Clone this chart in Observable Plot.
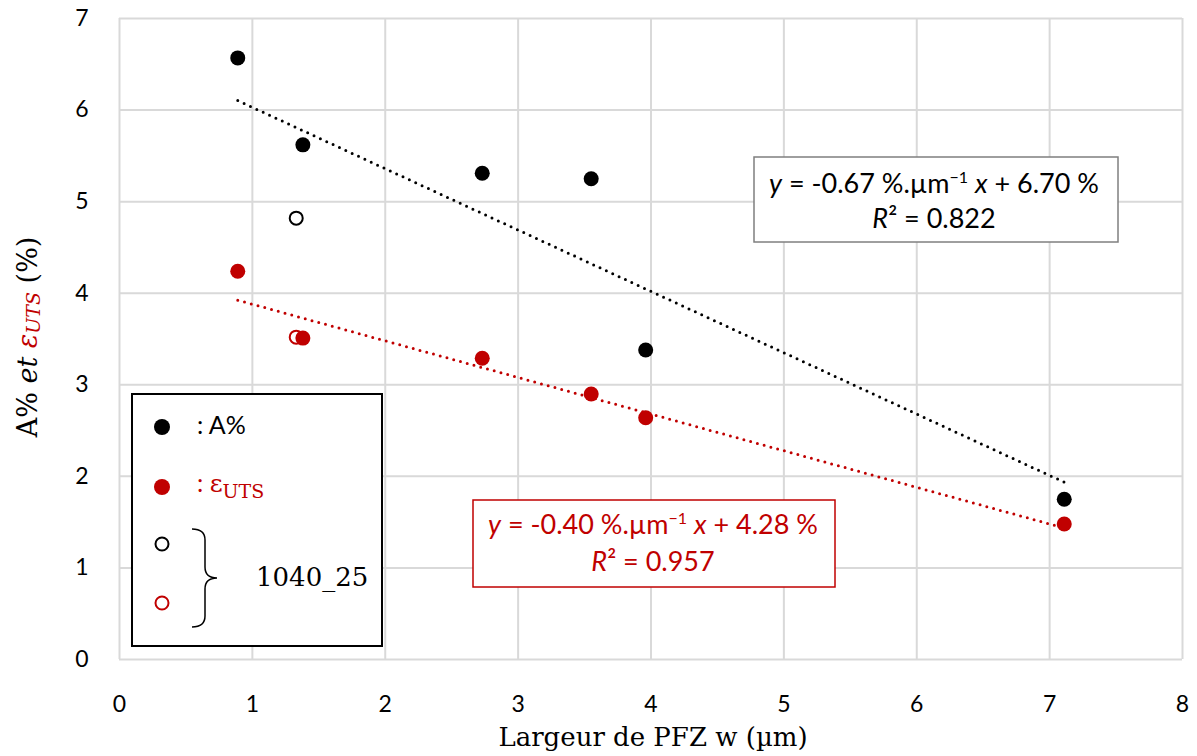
<!DOCTYPE html>
<html>
<head>
<meta charset="utf-8">
<script src="https://cdn.jsdelivr.net/npm/d3@7"></script>
<script src="https://cdn.jsdelivr.net/npm/@observablehq/plot@0.6"></script>
<style>
  body { margin: 0; background: #fff; }
  #chart { position: relative; width: 1197px; height: 756px; }
</style>
</head>
<body>
<div id="chart"></div>
<script>
// ---- Data ----
const widthPFZ = [0.89, 1.38, 2.73, 3.55, 3.96, 7.11];      // Largeur de PFZ w (µm)
const aPercent = [6.57, 5.62, 5.31, 5.25, 3.38, 1.75];       // A%
const epsUTS   = [4.24, 3.51, 3.29, 2.90, 2.64, 1.48];       // ε_UTS
const widthOpen = [1.33];                                     // 1040_25
const aOpen     = [4.82];
const epsOpen   = [3.52];
// trend lines as reported on the chart
const trendA = {slope: -0.67, intercept: 6.70, r2: "0.822"};
const trendE = {slope: -0.40, intercept: 4.28, r2: "0.957"};
const xTicks = [0, 1, 2, 3, 4, 5, 6, 7, 8];
const yTicks = [0, 1, 2, 3, 4, 5, 6, 7];

const RED = "#C00000";

const filledA = widthPFZ.map((x, i) => ({x, y: aPercent[i]}));
const filledE = widthPFZ.map((x, i) => ({x, y: epsUTS[i]}));
const openA = widthOpen.map((x, i) => ({x, y: aOpen[i]}));
const openE = widthOpen.map((x, i) => ({x, y: epsOpen[i]}));
const xExt = d3.extent(widthPFZ);
const lineA = xExt.map(x => ({x, y: trendA.slope * x + trendA.intercept}));
const lineE = xExt.map(x => ({x, y: trendE.slope * x + trendE.intercept}));

const grid = {stroke: "#d9d9d9", strokeOpacity: 1, strokeWidth: 2};
const dotted = {x: "x", y: "y", strokeWidth: 3, strokeDasharray: "0,7", strokeLinecap: "round"};

const plot = Plot.plot({
  width: 1197,
  height: 756,
  marginLeft: 119,
  marginRight: 15,
  marginTop: 18,
  marginBottom: 97,
  x: {domain: [0, 8], label: null},
  y: {domain: [0, 7], label: null},
  style: {fontFamily: "Lato, sans-serif", fontSize: "23px", color: "#000", background: "#fff"},
  marks: [
    Plot.gridX(xTicks, grid),
    Plot.gridY(yTicks, grid),
    Plot.axisX(xTicks, {tickSize: 0, tickPadding: 36, fontSize: 23, label: null, tickFormat: d => String(d)}),
    Plot.axisY(yTicks, {tickSize: 0, tickPadding: 31, fontSize: 23, label: null, tickFormat: d => String(d)}),
    Plot.line(lineA, {...dotted, stroke: "#000"}),
    Plot.line(lineE, {...dotted, stroke: RED}),
    Plot.dot(openA, {x: "x", y: "y", r: 6.5, stroke: "#000", strokeWidth: 2, fill: "#fff"}),
    Plot.dot(openE, {x: "x", y: "y", r: 6.5, stroke: RED, strokeWidth: 2, fill: "#fff"}),
    Plot.dot(filledA, {x: "x", y: "y", r: 7.5, fill: "#000"}),
    Plot.dot(filledE, {x: "x", y: "y", r: 7.5, fill: RED})
  ]
});
document.getElementById("chart").appendChild(plot);

const svg = d3.select(plot);
const serif = "'DejaVu Serif', serif";
const sans = "Lato, sans-serif";

// x-axis title
svg.append("text")
  .attr("x", 653).attr("y", 746)
  .attr("text-anchor", "middle")
  .attr("font-family", serif).attr("font-size", 26).attr("fill", "#000")
  .text("Largeur de PFZ w (µm)");

// y-axis title
const yt = svg.append("text")
  .attr("transform", "translate(37,337) rotate(-90)")
  .attr("text-anchor", "middle")
  .attr("font-family", serif).attr("font-size", 27).attr("fill", "#000");
yt.append("tspan").text("A% ");
yt.append("tspan").attr("font-style", "italic").text("et ");
yt.append("tspan").attr("font-style", "italic").attr("fill", RED).text("ε");
yt.append("tspan").attr("font-style", "italic").attr("fill", RED).attr("font-size", 19).attr("dy", 3).text("UTS");
yt.append("tspan").attr("dy", -3).text(" (%)");

// equation boxes
function eqBox(x0, y0, w, h, stroke, color, t, cx, b1, b2) {
  const g = svg.append("g").attr("text-anchor", "middle");
  g.append("rect").attr("x", x0).attr("y", y0).attr("width", w).attr("height", h)
    .attr("fill", "#fff").attr("stroke", stroke).attr("stroke-width", 1.5);
  const l1 = g.append("text").attr("x", cx).attr("y", b1)
    .attr("font-family", sans).attr("font-size", 27).attr("fill", color);
  l1.append("tspan").attr("font-style", "italic").text("y");
  l1.append("tspan").text(` = ${t.slope.toFixed(2)} %.µm`);
  l1.append("tspan").attr("font-size", 16).attr("dy", -10).text("−1");
  l1.append("tspan").attr("dy", 10).text(" ");
  l1.append("tspan").attr("font-style", "italic").text("x");
  l1.append("tspan").text(` + ${t.intercept.toFixed(2)} %`);
  const l2 = g.append("text").attr("x", cx).attr("y", b2)
    .attr("font-family", sans).attr("font-size", 27).attr("fill", color);
  l2.append("tspan").attr("font-style", "italic").text("R");
  l2.append("tspan").text(`² = ${t.r2}`);
}
eqBox(754, 157, 364, 85, "#7f7f7f", "#000", trendA, 934, 193, 228);
eqBox(473, 500, 362, 87, RED, RED, trendE, 653, 534, 571);

// legend
const lg = svg.append("g").attr("text-anchor", "start");
lg.append("rect").attr("x", 132).attr("y", 394).attr("width", 250).attr("height", 252)
  .attr("fill", "#fff").attr("stroke", "#000").attr("stroke-width", 2);
lg.append("circle").attr("cx", 162).attr("cy", 427).attr("r", 8).attr("fill", "#000");
lg.append("text").attr("x", 197).attr("y", 434).attr("font-family", sans).attr("font-size", 25)
  .attr("fill", "#000").text(": A%");
lg.append("circle").attr("cx", 162).attr("cy", 487).attr("r", 8).attr("fill", RED);
const le = lg.append("text").attr("x", 197).attr("y", 492).attr("font-family", serif).attr("font-size", 25).attr("fill", RED);
le.append("tspan").attr("font-family", sans).text(": ");
le.append("tspan").text("ε");
le.append("tspan").attr("font-size", 19).attr("dy", 6).text("UTS");
lg.append("circle").attr("cx", 162).attr("cy", 544).attr("r", 6.5).attr("fill", "#fff").attr("stroke", "#000").attr("stroke-width", 2);
lg.append("circle").attr("cx", 162).attr("cy", 603).attr("r", 6.5).attr("fill", "#fff").attr("stroke", RED).attr("stroke-width", 2);
lg.append("path")
  .attr("d", "M192,529 Q205,529 205,540 L205,567 Q205,578 217,578 Q205,578 205,589 L205,616 Q205,627 192,627")
  .attr("fill", "none").attr("stroke", "#000").attr("stroke-width", 1.5);
lg.append("text").attr("x", 256).attr("y", 586).attr("font-family", serif).attr("font-size", 26)
  .attr("fill", "#000").text("1040_25");
</script>
</body>
</html>
